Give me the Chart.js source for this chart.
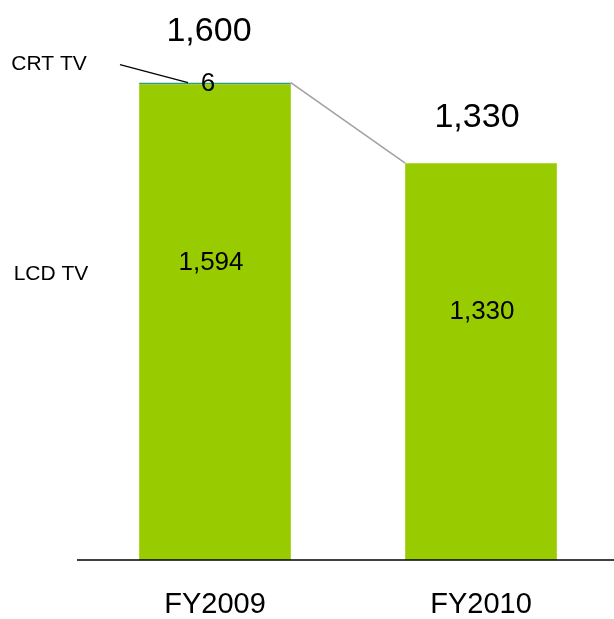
<!DOCTYPE html>
<html>
<head>
<meta charset="utf-8">
<script src="https://cdn.jsdelivr.net/npm/chart.js@4.4.1/dist/chart.umd.min.js"></script>
<style>
  body { margin: 0; background: #fff; }
</style>
</head>
<body>
<canvas id="grafico" width="614" height="619"></canvas>
<script>
var anni = ["FY2009", "FY2010"];
var lcdTv = [1594, 1330];
var crtTv = [6, 0];
var totali = [1600, 1330];

var FONT = "'Liberation Sans', Arial, sans-serif";

// etichette, linee di collegamento e legenda a sinistra
var etichette = {
  id: 'etichette',
  afterDatasetsDraw: function(chart){
    var ctx = chart.ctx;
    var x = chart.scales.x, y = chart.scales.y;
    var barre = chart.getDatasetMeta(0).data;
    var sopra = [51, 46];

    ctx.save();
    ctx.fillStyle = '#000';
    ctx.textAlign = 'center';
    ctx.textBaseline = 'middle';

    // linea grigia tra le cime delle barre
    var b0 = barre[0], b1 = barre[1];
    ctx.strokeStyle = '#a0a0a0';
    ctx.lineWidth = 1.5;
    ctx.beginPath();
    ctx.moveTo(b0.x + b0.width / 2, y.getPixelForValue(totali[0]));
    ctx.lineTo(b1.x - b1.width / 2, y.getPixelForValue(totali[1]));
    ctx.stroke();

    for (var i = 0; i < anni.length; i++) {
      var cx = x.getPixelForValue(i);
      ctx.font = '34px ' + FONT;
      ctx.fillText(totali[i].toLocaleString('en-US'), cx - 6 + i * 2, y.getPixelForValue(totali[i]) - sopra[i]);
      ctx.font = '26px ' + FONT;
      ctx.fillText(lcdTv[i].toLocaleString('en-US'), cx - 4 + i * 5, y.getPixelForValue(lcdTv[i] * 0.625));
    }

    // valore CRT
    var top0 = y.getPixelForValue(totali[0]);
    ctx.font = '26px ' + FONT;
    ctx.fillText(String(crtTv[0]), x.getPixelForValue(0) - 7, top0 + 1);

    // nomi delle serie
    ctx.font = '21px ' + FONT;
    ctx.fillText('CRT TV', 49, top0 - 18);
    ctx.fillText('LCD TV', 51, y.getPixelForValue(lcdTv[0] * 0.6));

    ctx.strokeStyle = '#000';
    ctx.lineWidth = 1.2;
    ctx.beginPath();
    ctx.moveTo(120, top0 - 18);
    ctx.lineTo(b0.x - 27, top0);
    ctx.stroke();

    // asse x
    var fondo = y.getPixelForValue(0);
    ctx.strokeStyle = '#000';
    ctx.lineWidth = 1.5;
    ctx.beginPath();
    ctx.moveTo(77, fondo);
    ctx.lineTo(614, fondo);
    ctx.stroke();
    ctx.restore();
  }
};

var chart = new Chart(document.getElementById('grafico'), {
  type: 'bar',
  data: {
    labels: anni,
    datasets: [{
      label: 'LCD TV',
      data: lcdTv,
      backgroundColor: '#99cc00',
      categoryPercentage: 1.0,
      barPercentage: 0.57
    }, {
      label: 'CRT TV',
      data: crtTv,
      backgroundColor: '#2f9a7a',
      categoryPercentage: 1.0,
      barPercentage: 0.57
    }]
  },
  options: {
    responsive: false,
    animation: false,
    layout: { padding: { left: 82, right: 0, top: 0, bottom: 0 } },
    plugins: {
      legend: { display: false },
      tooltip: { enabled: false }
    },
    scales: {
      x: {
        stacked: true,
        grid: { display: false, drawTicks: false },
        border: { display: false },
        afterFit: function(scale){ scale.height = 59; },
        ticks: {
          color: '#000',
          padding: 28,
          font: { family: FONT, size: 29 }
        }
      },
      y: {
        stacked: true,
        display: false,
        min: 0,
        max: 1877
      }
    }
  },
  plugins: [etichette]
});
</script>
</body>
</html>
